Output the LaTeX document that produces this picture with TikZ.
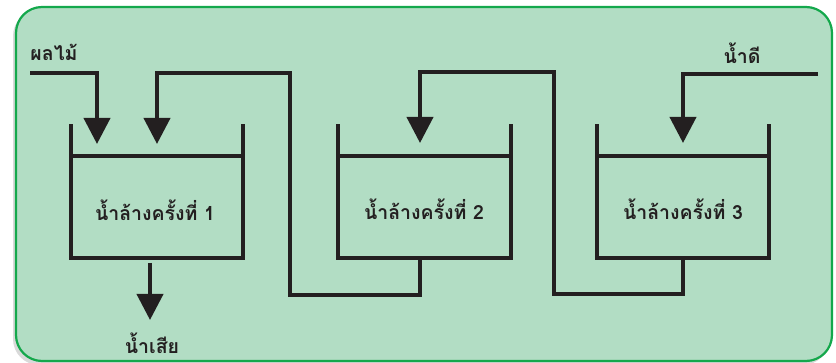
\documentclass[tikz,border=0pt]{standalone}
\usepackage{fontspec}
\newfontfamily\thaifont[Script=Thai]{Loma}
\usetikzlibrary{arrows.meta}
\definecolor{bgfill}{HTML}{B2DDC4}
\definecolor{bgline}{HTML}{14A84C}
\definecolor{ink}{HTML}{231F20}
\tikzset{
  pipe/.style={draw=ink,line width=4pt,line join=miter,line cap=butt},
  feed/.style={pipe,-{Triangle[width=26pt,length=26pt]}},
  wall/.style={draw=ink,line width=4pt,line cap=rect},
  lbl/.style={font=\thaifont\bfseries\fontsize{19.5}{22}\selectfont,text=ink,inner sep=0pt},
  tanklbl/.style={lbl}
}
\begin{document}
\begin{tikzpicture}[x=1pt,y=-1pt]
\useasboundingbox (0,0) rectangle (836,363);
% background panel with shadow
\fill[black!15,rounded corners=26pt] (13,10) rectangle (829,365);
\filldraw[fill=bgfill,draw=bgline,line width=2.2pt,rounded corners=26pt] (16,7) rectangle (832,361);

% tanks
\foreach \n/\l/\r in {1/71/243, 2/338/511, 3/597/769}{
  \draw[wall] (\l,126) -- (\l,258) -- (\r,258) -- (\r,126);
  \draw[wall,line cap=butt] (\l,156) -- (\r,156);
  \coordinate (t\n) at ({(\l+\r)/2},207);
}
\node[tanklbl] (lab1) at (155,210) {น้ำล้างครั้งที่ 1};
\node[tanklbl] (lab2) at (424,209) {น้ำล้างครั้งที่ 2};
\node[tanklbl] (lab3) at (683,209) {น้ำล้างครั้งที่ 3};

% coordinates
\coordinate (inF) at (30,73);
\coordinate (tipA) at (97,144);
\coordinate (tipB) at (157,144);
\coordinate (tipC) at (420,143);
\coordinate (tipD) at (683,143);
\coordinate (out2) at (420,258);
\coordinate (out3) at (683,258);
\coordinate (inW) at (818,74);
\coordinate (out1s) at (150,263);
\coordinate (out1e) at (150,320);

% fruit input
\draw[feed] (inF) -- (97,73) -- (tipA);
% from tank 2 to tank 1
\draw[feed] (out2) -- (420,295) -- (290,295) -- (290,73) -- (157,73) -- (tipB);
% from tank 3 to tank 2
\draw[feed] (out3) -- (683,294) -- (554,294) -- (554,72) -- (420,72) -- (tipC);
% clean water
\draw[feed] (inW) -- (683,74) -- (tipD);
% waste
\draw[feed] (out1s) -- (out1e);

\node[lbl] (fruit) at (54,52) {ผลไม้};
\node[lbl] (clean) at (742,53) {น้ำดี};
\node[lbl] (waste) at (152,343) {น้ำเสีย};
\end{tikzpicture}
\end{document}
